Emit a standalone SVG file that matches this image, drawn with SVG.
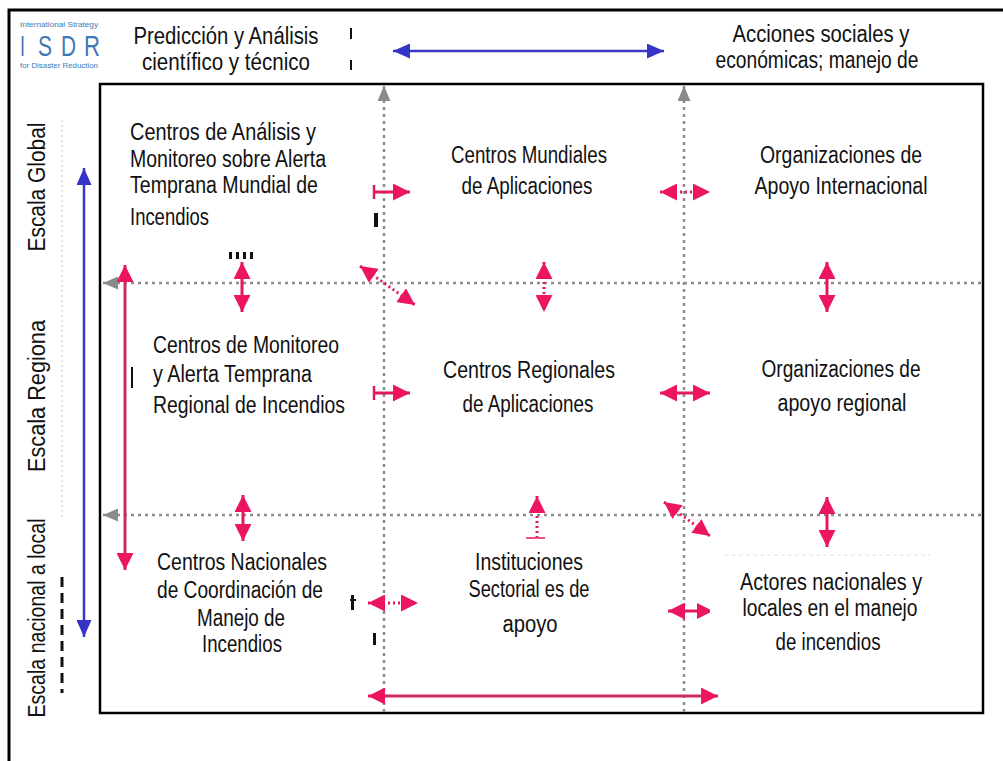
<svg xmlns="http://www.w3.org/2000/svg" width="1003" height="761" viewBox="0 0 1003 761">
<style>
.t{font-family:"Liberation Sans",Arial,sans-serif;font-size:23px;fill:#111}
.c{text-anchor:middle}
.logo{font-family:"Liberation Sans",Arial,sans-serif;fill:#3f78b6}
.pk{stroke:#e3195f;stroke-width:3;fill:none}
.pkd{stroke:#e3195f;stroke-width:3;fill:none;stroke-dasharray:2 3}
.pkl{stroke:#cc2a68;stroke-width:3;fill:none}
.bl{stroke:#3838c4;stroke-width:2.5;fill:none}
.gd{stroke:#8c8c8c;stroke-width:2.5;fill:none;stroke-dasharray:3 4}
.frag{fill:#111}
</style>
<defs>
<marker id="hp" markerUnits="userSpaceOnUse" markerWidth="17" markerHeight="17" viewBox="0 0 16 16" refX="16" refY="8" orient="auto-start-reverse"><path d="M0,0 L16,8 L0,16 z" fill="#ec1561"/></marker>
<marker id="hb" markerUnits="userSpaceOnUse" markerWidth="17" markerHeight="15" viewBox="0 0 17 15" refX="17" refY="7.5" orient="auto-start-reverse"><path d="M0,0 L17,7.5 L0,15 z" fill="#3434c8"/></marker>
<marker id="hg" markerUnits="userSpaceOnUse" markerWidth="15" markerHeight="13" viewBox="0 0 15 13" refX="15" refY="6.5" orient="auto-start-reverse"><path d="M0,0 L15,6.5 L0,13 z" fill="#8a8a8a"/></marker>
</defs>
<rect width="1003" height="761" fill="#fff"/>
<g id="frame">
<rect x="9" y="10" width="1010" height="770" fill="none" stroke="#000" stroke-width="3"/>
<rect x="100" y="84" width="883" height="629" fill="none" stroke="#000" stroke-width="2.5"/>
</g>
<g id="logo">
<text class="logo" x="20" y="27" font-size="7.5" textLength="78" lengthAdjust="spacingAndGlyphs">International Strategy</text>
<text class="logo" x="20" y="56" font-size="29" textLength="5" lengthAdjust="spacingAndGlyphs">I</text>
<text class="logo" x="38" y="56" font-size="29" textLength="14" lengthAdjust="spacingAndGlyphs">S</text>
<text class="logo" x="61" y="56" font-size="29" textLength="15" lengthAdjust="spacingAndGlyphs">D</text>
<text class="logo" x="84" y="56" font-size="29" textLength="16" lengthAdjust="spacingAndGlyphs">R</text>
<text class="logo" x="20" y="68" font-size="7.5" textLength="78" lengthAdjust="spacingAndGlyphs">for Disaster Reduction</text>
</g>
<g id="connectors">
<line class="gd" x1="384" y1="86" x2="384" y2="712" marker-start="url(#hg)"/>
<line class="gd" x1="684" y1="86" x2="684" y2="712" marker-start="url(#hg)"/>
<line class="gd" x1="103" y1="283" x2="982" y2="283" marker-start="url(#hg)"/>
<line class="gd" x1="103" y1="515" x2="982" y2="515" marker-start="url(#hg)"/>
<line x1="62" y1="120" x2="62" y2="520" stroke="#e2e2e2" stroke-width="2" stroke-dasharray="2 3"/>
<line x1="62" y1="577" x2="62" y2="693" stroke="#111" stroke-width="3" stroke-dasharray="10 6"/>
<line x1="725" y1="555" x2="930" y2="555" stroke="#ececec" stroke-width="1.5" stroke-dasharray="4 3"/>
<line class="bl" x1="393" y1="51" x2="664" y2="51" marker-start="url(#hb)" marker-end="url(#hb)"/>
<line class="bl" x1="84" y1="168" x2="84" y2="637" marker-start="url(#hb)" marker-end="url(#hb)"/>
<line class="pkl" x1="125" y1="265" x2="125" y2="570" marker-start="url(#hp)" marker-end="url(#hp)"/>
<line class="pk" x1="374" y1="192" x2="410" y2="192" marker-end="url(#hp)"/>
<line x1="374" y1="185" x2="374" y2="199" stroke="#e3195f" stroke-width="2.5"/>
<line class="pkd" x1="660" y1="192" x2="710" y2="192" marker-start="url(#hp)" marker-end="url(#hp)"/>
<line class="pk" x1="242" y1="262" x2="242" y2="312" marker-start="url(#hp)" marker-end="url(#hp)"/>
<line class="pkd" x1="360" y1="266" x2="415" y2="305" marker-start="url(#hp)" marker-end="url(#hp)"/>
<line class="pkd" x1="544" y1="262" x2="544" y2="312" marker-start="url(#hp)" marker-end="url(#hp)"/>
<line class="pk" x1="827" y1="262" x2="827" y2="312" marker-start="url(#hp)" marker-end="url(#hp)"/>
<line class="pk" x1="374" y1="393" x2="410" y2="393" marker-end="url(#hp)"/>
<line x1="374" y1="386" x2="374" y2="400" stroke="#e3195f" stroke-width="2.5"/>
<line class="pk" x1="660" y1="393" x2="710" y2="393" marker-start="url(#hp)" marker-end="url(#hp)"/>
<line class="pk" x1="243" y1="495" x2="243" y2="541" marker-start="url(#hp)" marker-end="url(#hp)"/>
<line class="pkd" x1="537" y1="496" x2="537" y2="537" marker-start="url(#hp)"/>
<line x1="526" y1="538" x2="545" y2="538" stroke="#e3195f" stroke-width="1.5"/>
<line class="pkd" x1="664" y1="502" x2="710" y2="536" marker-start="url(#hp)" marker-end="url(#hp)"/>
<line class="pk" x1="827" y1="497" x2="827" y2="547" marker-start="url(#hp)" marker-end="url(#hp)"/>
<line class="pkd" x1="368" y1="603" x2="418" y2="603" marker-start="url(#hp)" marker-end="url(#hp)"/>
<line class="pk" x1="668" y1="611" x2="697" y2="611"  marker-start="url(#hp)"/>
<path d="M697,603 L710,609.5 L710,612.5 L697,619 z" fill="#ec1561"/>
<line class="pkl" x1="368" y1="696" x2="718" y2="696" marker-start="url(#hp)" marker-end="url(#hp)"/>
</g>
<g id="node-prediccion">
<text class="t c" x="226" y="44" textLength="185" lengthAdjust="spacingAndGlyphs">Predicción y Análisis</text>
<text class="t c" x="226" y="70" textLength="168" lengthAdjust="spacingAndGlyphs">científico y técnico</text>
</g>
<g id="node-acciones">
<text class="t c" x="821" y="42" textLength="177" lengthAdjust="spacingAndGlyphs">Acciones sociales y</text>
<text class="t c" x="817" y="68" textLength="203" lengthAdjust="spacingAndGlyphs">económicas; manejo de</text>
</g>
<g id="label-global">
<text class="t c" transform="translate(45,187) rotate(-90)" textLength="129" lengthAdjust="spacingAndGlyphs">Escala Global</text>
</g>
<g id="label-regional">
<text class="t c" transform="translate(45,396) rotate(-90)" textLength="152" lengthAdjust="spacingAndGlyphs">Escala Regiona</text>
</g>
<g id="label-nacional">
<text class="t c" transform="translate(45,618) rotate(-90)" textLength="199" lengthAdjust="spacingAndGlyphs">Escala nacional a local</text>
</g>
<g id="node-global-analisis">
<text class="t" x="130" y="140" textLength="186" lengthAdjust="spacingAndGlyphs">Centros de Análisis y</text>
<text class="t" x="130" y="167" textLength="196" lengthAdjust="spacingAndGlyphs">Monitoreo sobre Alerta</text>
<text class="t" x="130" y="193" textLength="188" lengthAdjust="spacingAndGlyphs">Temprana Mundial de</text>
<text class="t" x="130" y="225" textLength="79" lengthAdjust="spacingAndGlyphs">Incendios</text>
</g>
<g id="node-global-aplicaciones">
<text class="t c" x="529" y="163" textLength="156" lengthAdjust="spacingAndGlyphs">Centros Mundiales</text>
<text class="t c" x="527" y="194" textLength="131" lengthAdjust="spacingAndGlyphs">de Aplicaciones</text>
</g>
<g id="node-global-apoyo">
<text class="t c" x="841" y="163" textLength="162" lengthAdjust="spacingAndGlyphs">Organizaciones de</text>
<text class="t c" x="841" y="194" textLength="173" lengthAdjust="spacingAndGlyphs">Apoyo Internacional</text>
</g>
<g id="node-regional-monitoreo">
<text class="t" x="153" y="353" textLength="186" lengthAdjust="spacingAndGlyphs">Centros de Monitoreo</text>
<text class="t" x="153" y="382" textLength="159" lengthAdjust="spacingAndGlyphs">y Alerta Temprana</text>
<text class="t" x="153" y="413" textLength="192" lengthAdjust="spacingAndGlyphs">Regional de Incendios</text>
</g>
<g id="node-regional-aplicaciones">
<text class="t c" x="529" y="378" textLength="172" lengthAdjust="spacingAndGlyphs">Centros Regionales</text>
<text class="t c" x="528" y="412" textLength="131" lengthAdjust="spacingAndGlyphs">de Aplicaciones</text>
</g>
<g id="node-regional-apoyo">
<text class="t c" x="841" y="377" textLength="159" lengthAdjust="spacingAndGlyphs">Organizaciones de</text>
<text class="t c" x="842" y="411" textLength="129" lengthAdjust="spacingAndGlyphs">apoyo regional</text>
</g>
<g id="node-nacional-coordinacion">
<text class="t c" x="242" y="570" textLength="170" lengthAdjust="spacingAndGlyphs">Centros Nacionales</text>
<text class="t c" x="240" y="598" textLength="166" lengthAdjust="spacingAndGlyphs">de Coordinación de</text>
<text class="t c" x="241" y="626" textLength="88" lengthAdjust="spacingAndGlyphs">Manejo de</text>
<text class="t c" x="242" y="652" textLength="80" lengthAdjust="spacingAndGlyphs">Incendios</text>
</g>
<g id="node-nacional-instituciones">
<text class="t c" x="529" y="570" textLength="108" lengthAdjust="spacingAndGlyphs">Instituciones</text>
<text class="t c" x="529" y="597" textLength="121" lengthAdjust="spacingAndGlyphs">Sectorial es de</text>
<text class="t c" x="530" y="632" textLength="55" lengthAdjust="spacingAndGlyphs">apoyo</text>
</g>
<g id="node-nacional-actores">
<text class="t c" x="831" y="590" textLength="182" lengthAdjust="spacingAndGlyphs">Actores nacionales y</text>
<text class="t c" x="830" y="616" textLength="175" lengthAdjust="spacingAndGlyphs">locales en el manejo</text>
<text class="t c" x="828" y="650" textLength="105" lengthAdjust="spacingAndGlyphs">de incendios</text>
</g>
<g id="fragments">
<rect class="frag" x="350" y="28" width="2" height="11"/>
<rect class="frag" x="350" y="60" width="2" height="10"/>
<rect class="frag" x="374" y="213" width="4" height="14"/>
<rect class="frag" x="229" y="252" width="3" height="7"/>
<rect class="frag" x="236" y="252" width="3" height="7"/>
<rect class="frag" x="243" y="252" width="3" height="7"/>
<rect class="frag" x="250" y="252" width="3" height="7"/>
<rect class="frag" x="131" y="367" width="2" height="21"/>
<rect class="frag" x="351" y="595" width="3" height="15"/>
<rect class="frag" x="350" y="599" width="6" height="2"/>
<rect class="frag" x="373" y="633" width="3" height="12"/>
</g>
</svg>
